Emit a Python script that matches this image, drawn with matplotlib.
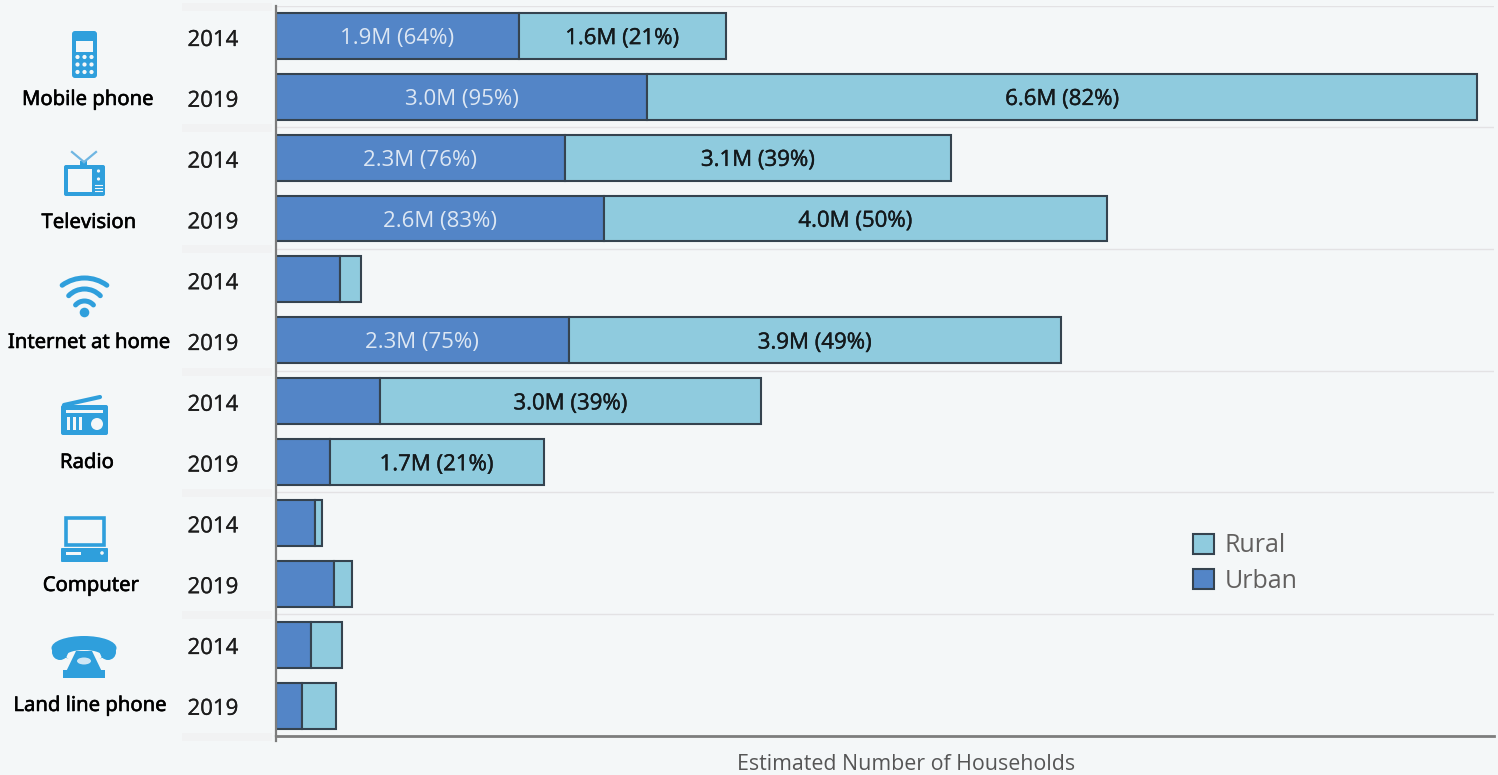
import numpy as np
import matplotlib
matplotlib.use("Agg")
import matplotlib.pyplot as plt
import matplotlib.patheffects as pe
from matplotlib.patches import Rectangle, FancyBboxPatch, Circle, Ellipse, Polygon, Arc

plt.rcParams['font.family'] = ['Lato', 'DejaVu Sans']

W, H = 1498, 775
BG = '#f4f7f8'
URBAN = '#5385c7'
RURAL = '#8fcbde'
EDGE = '#35434f'
ICON = '#2f9fdc'

# data, millions of households
categories = ['Mobile phone', 'Television', 'Internet at home', 'Radio', 'Computer', 'Land line phone']
years = ['2014', '2019'] * 6
urban = [1.94, 2.97, 2.31, 2.62, 0.51, 2.34, 0.83, 0.43, 0.31, 0.46, 0.28, 0.21]
rural = [1.66, 6.64, 3.09, 4.03, 0.17, 3.94, 3.05, 1.71, 0.06, 0.15, 0.25, 0.27]
urban_labels = ['1.9M (64%)', '3.0M (95%)', '2.3M (76%)', '2.6M (83%)', None, '2.3M (75%)',
                None, None, None, None, None, None]
rural_labels = ['1.6M (21%)', '6.6M (82%)', '3.1M (39%)', '4.0M (50%)', None, '3.9M (49%)',
                '3.0M (39%)', '1.7M (21%)', None, None, None, None]


def thicken(t, color, w=0.5):
    # the installed fonts only come in regular here, so fatten them a bit
    t.set_path_effects([pe.withStroke(linewidth=w, foreground=color)])


fig = plt.figure(figsize=(W / 100, H / 100), dpi=100, facecolor=BG)

# overlay in pixel coords for the icons and left hand furniture
pix = fig.add_axes([0, 0, 1, 1], zorder=0)
pix.set_xlim(0, W)
pix.set_ylim(H, 0)
pix.axis('off')

ax = fig.add_axes([276 / W, 1 - 736 / H, (1494 - 276) / W, 730 / H], zorder=1)
ax.patch.set_alpha(0)

y = np.arange(len(urban))
left = np.array(urban)
ax.barh(y, urban, height=0.755, color=URBAN, edgecolor=EDGE, linewidth=1.5, label='Urban')
ax.barh(y, rural, left=left, height=0.755, color=RURAL, edgecolor=EDGE, linewidth=1.5, label='Rural')

for i in y:
    if urban_labels[i]:
        ax.text(urban[i] / 2, i + 0.045, urban_labels[i], ha='center', va='center',
                fontsize=16, color='#dde7f3', family='Open Sans')
    if rural_labels[i]:
        t = ax.text(urban[i] + rural[i] / 2, i + 0.045, rural_labels[i], ha='center', va='center',
                    fontsize=16, color='#14191c', family='Open Sans')
        thicken(t, '#14191c', 0.3)

ax.set_xlim(0, 1218 / 125)
ax.set_ylim(11.5, -0.49)
ax.set_xticks([])
ax.set_yticks([])
for s in ['top', 'right']:
    ax.spines[s].set_visible(False)
ax.spines['left'].set_color('#7d7d7d')
ax.spines['left'].set_linewidth(1.6)
ax.spines['bottom'].set_color('#7d7d7d')
ax.spines['bottom'].set_linewidth(2)

# separators between the groups
for k in range(0, 6):
    ax.axhline(max(2 * k - 0.5, -0.485), color='#e3e2e4', linewidth=1, zorder=0)

for sy in [6, 127, 248, 371, 492, 614, 736]:
    pix.add_patch(Rectangle((182, sy - 3), 90, 8, color='#f1f2f3', lw=0))
pix.plot([276, 276], [736, 741], color='#7d7d7d', lw=1.6)

# year labels
for i, yr in enumerate(years):
    py = 36.5 + i * 60.8
    t = pix.text(213, py + 4, yr, ha='center', va='center', fontsize=16, color='#1c1c1c', family='Open Sans')
    thicken(t, '#1c1c1c', 0.2)

# category names
cat_x = [88, 89, 89, 87, 91, 90]
cat_y = [100, 223, 343, 463, 586, 706]
for name, cx, cy in zip(categories, cat_x, cat_y):
    t = pix.text(cx, cy, name, ha='center', va='center', fontsize=14.6, color='#000000',
                 family='Noto Sans')
    thicken(t, '#000000', 0.4)


def rbox(x, y0, w, h, r, color):
    pix.add_patch(FancyBboxPatch((x + r, y0 + r), w - 2 * r, h - 2 * r,
                                 boxstyle=f'round,pad={r}', fc=color, ec='none'))


# mobile phone
rbox(72, 31, 25, 47, 3, ICON)
pix.add_patch(Rectangle((76, 41), 17, 11, fc=BG, ec='none'))
for r_ in range(3):
    for c_ in range(3):
        pix.add_patch(Circle((77.5 + c_ * 7, 57 + r_ * 7.5), 2.1, fc=BG, ec='none'))

# television
rbox(64, 165, 41, 31, 2, ICON)
pix.add_patch(Rectangle((68, 169), 24, 23, fc=BG, ec='none'))
pix.plot([84, 72], [162, 152], color='#6fb6e2', lw=1.6)
pix.plot([84, 96], [162, 152], color='#6fb6e2', lw=1.6)
pix.add_patch(Rectangle((80, 161), 7, 5, fc=ICON, ec='none'))
for dy in [171, 179]:
    pix.add_patch(Circle((98.5, dy), 1.6, fc=BG, ec='none'))
for dy in [185, 188, 191]:
    pix.plot([95, 102], [dy, dy], color=BG, lw=0.8)

# wifi
for rad, cy_, half in [(38, 316, 36), (22, 311, 46), (12, 313, 48)]:
    pix.add_patch(Arc((84.5, cy_), rad * 2, rad * 2, theta1=270 - half, theta2=270 + half,
                      color=ICON, lw=3.6, capstyle='round'))
pix.add_patch(Circle((84.5, 312.5), 4.8, fc=ICON, ec='none'))

# radio
rbox(61, 405, 47, 30, 2, ICON)
pix.plot([64, 100], [405, 397], color=ICON, lw=3, solid_capstyle='round')
pix.add_patch(Rectangle((66, 410), 37, 3, fc=BG, ec='none'))
for bx in [67, 73, 79]:
    pix.add_patch(Rectangle((bx, 417), 3, 13, fc=BG, ec='none'))
pix.add_patch(Circle((97, 424), 6, fc=BG, ec='none'))

# computer
pix.add_patch(Rectangle((65.5, 518), 38, 27, fc=BG, ec=ICON, lw=2.6))
rbox(61, 548, 47, 14, 1, ICON)
pix.add_patch(Rectangle((66, 552), 15, 2.5, fc=BG, ec='none'))
pix.add_patch(Circle((102, 553), 1.8, fc=BG, ec='none'))

# land line phone
pix.add_patch(Ellipse((84, 648), 65, 24, fc=ICON, ec='none'))
pix.add_patch(Ellipse((84, 656), 36, 12, fc=BG, ec='none'))
pix.add_patch(Circle((60, 652), 8, fc=ICON, ec='none'))
pix.add_patch(Circle((108, 652), 8, fc=ICON, ec='none'))
pix.add_patch(Polygon([[76, 651], [92, 651], [105, 678], [63, 678]], closed=True, fc=ICON, ec='none'))
pix.add_patch(Rectangle((63, 670), 42, 8, fc=ICON, ec='none'))
pix.add_patch(Ellipse((84, 661), 14, 7, fc='#cfe6f5', ec='none'))

# legend, rural listed first
h, l = ax.get_legend_handles_labels()
leg = ax.legend(h[::-1], l[::-1], loc='upper left', bbox_to_anchor=((1185 - 276) / 1218, (736 - 526) / 730),
                frameon=False, handlelength=0.84, handleheight=0.84,
                handletextpad=0.45, labelspacing=0.42, borderpad=0.3, borderaxespad=0,
                prop={'family': 'Open Sans', 'size': 18})
for t in leg.get_texts():
    t.set_color('#62605f')

pix.text(906, 764, 'Estimated Number of Households', ha='center', va='center', fontsize=15.4,
         color='#555555', family='Open Sans')

fig.savefig('out.png', dpi=100, facecolor=BG)
